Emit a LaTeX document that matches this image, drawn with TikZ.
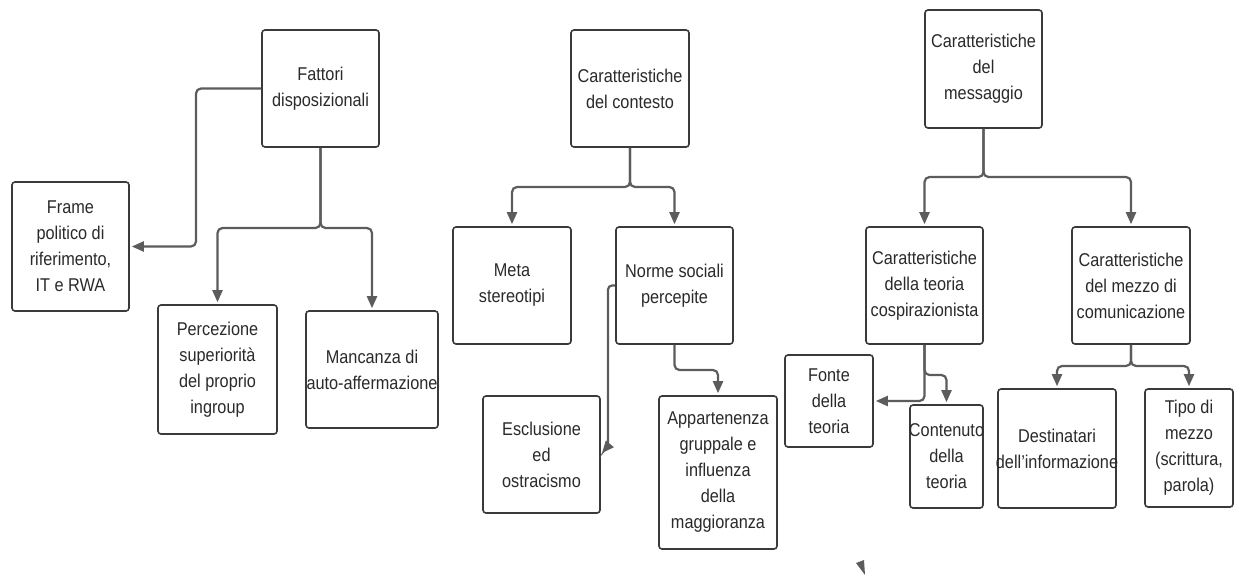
\documentclass[tikz,border=0pt]{standalone}
\usepackage{fontspec}
\setmainfont[FakeStretch=0.88]{Liberation Sans}
\usetikzlibrary{arrows.meta}
\definecolor{boxline}{HTML}{3A3A3A}
\definecolor{connline}{HTML}{5C5C5C}
\definecolor{txtcol}{HTML}{2A2A2A}
\tikzset{
  box/.style={draw=boxline, line width=1.6pt, rounded corners=3pt, fill=white, inner sep=0pt},
  txt/.style={align=center, text=txtcol, font=\fontsize{18.5}{26}\selectfont},
  conn/.style={draw=connline, line width=2.2pt, rounded corners=5pt,
    -{Triangle[length=12pt,width=10pt]}, shorten >=2pt}
}
\newcommand{\mybox}[6]{%
  \node[box, minimum width=#3, minimum height=#4,
    label={[txt]center:{#6}}] (#1) at (#2) {};}
\begin{document}
\begin{tikzpicture}[x=1pt,y=-1pt]
\useasboundingbox[fill=white] (0,0) rectangle (1236,576);

% column 1
\mybox{F}{320.5,88.5}{117}{117}{}{Fattori\\disposizionali}
\mybox{Fr}{70.5,246.5}{117}{129}{}{Frame\\politico di\\riferimento,\\IT e RWA}
\mybox{P}{217.5,369.5}{119}{129}{}{Percezione\\superiorità\\del proprio\\ingroup}
\mybox{M}{372,369.5}{132}{117}{}{Mancanza di\\auto-affermazione}

% column 2
\mybox{C}{630,88.5}{118}{117}{}{Caratteristiche\\del contesto}
\mybox{Me}{512,285.5}{118}{117}{}{Meta\\stereotipi}
\mybox{N}{674.5,285.5}{117}{117}{}{Norme sociali\\percepite}
\mybox{E}{541.5,454.5}{117}{117}{}{Esclusione\\ed\\ostracismo}
\mybox{A}{718,472.5}{118}{153}{}{Appartenenza\\gruppale e\\influenza\\della\\maggioranza}

% column 3
\mybox{Ms}{983.5,69}{117}{118}{}{Caratteristiche\\del\\messaggio}
\mybox{T}{924.5,285.5}{117}{117}{}{Caratteristiche\\della teoria\\cospirazionista}
\mybox{Mz}{1131,285.5}{118}{117}{}{Caratteristiche\\del mezzo di\\comunicazione}
\mybox{Fo}{829,401}{88}{92}{}{Fonte\\della\\teoria}
\mybox{Co}{946.5,456.5}{73}{103}{}{Contenuto\\della\\teoria}
\mybox{D}{1057,448.5}{118}{119}{}{Destinatari\\dell'informazione}
\mybox{Tp}{1189,448}{88}{118}{}{Tipo di\\mezzo\\(scrittura,\\parola)}

% connectors column 1
\draw[conn] (F.west) -- (196,88.5) |- (Fr.east);
\draw[conn] (F.south) -- (320.5,228) -| (P.north);
\draw[conn] (F.south) -- (320.5,228) -| (M.north);

% connectors column 2
\draw[conn] (C.south) -- (630,187) -| (Me.north);
\draw[conn] (C.south) -- (630,187) -| (N.north);
\draw[conn] (N.south) -- (674.5,370) -| (A.north);
\draw[conn, rounded corners=4pt] (N.west) -- (608,285.5) -- (608,446) -- (E.east);

% connectors column 3
\draw[conn] (Ms.south) -- (983.5,177) -| (T.north);
\draw[conn] (Ms.south) -- (983.5,177) -| (Mz.north);
\draw[conn] (T.south) |- (Fo.east);
\draw[conn] (T.south) -- (924.5,375) -| (Co.north);
\draw[conn] (Mz.south) -- (1131,366) -| (D.north);
\draw[conn] (Mz.south) -- (1131,366) -| (Tp.north);

% stray arrowhead mark
\fill[connline] (856,563) -- (864,560) -- (865,575) -- cycle;
\end{tikzpicture}
\end{document}
